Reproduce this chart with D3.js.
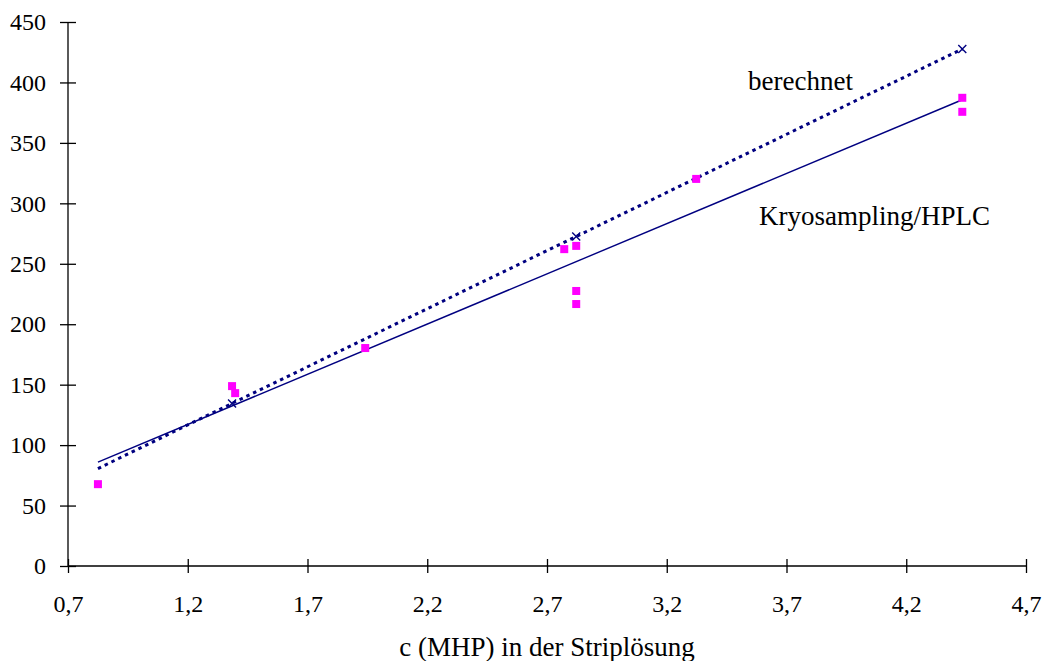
<!DOCTYPE html>
<html>
<head>
<meta charset="utf-8">
<script src="https://cdn.jsdelivr.net/npm/d3@7"></script>
<style>
  html, body { margin: 0; padding: 0; background: #fff; }
  svg text { font-family: "Liberation Serif", "Times New Roman", serif; fill: #000; }
</style>
</head>
<body>
<svg id="chart" width="1050" height="661"></svg>
<script>
// Measured MHP values (Kryosampling/HPLC)
const measX = [0.825, 1.385, 1.398, 1.941, 2.772, 2.822, 2.822, 2.822, 3.323, 4.434, 4.434];
const measY = [67.7, 148.8, 143.0, 180.3, 262.1, 264.8, 227.5, 216.7, 320.2, 387.3, 375.7];

// Trend line through the measured values
const trendX = [0.825, 4.434];
const trendY = [85.9, 385.7];

// Calculated values ("berechnet")
const calcX = [0.825, 1.385, 2.822, 4.434];
const calcY = [80.6, 134.5, 272.6, 427.7];
const calcMarked = [false, true, true, true];

const xTicks = [0.7, 1.2, 1.7, 2.2, 2.7, 3.2, 3.7, 4.2, 4.7];
const yTicks = [0, 50, 100, 150, 200, 250, 300, 350, 400, 450];

const xTitle = "c (MHP) in der Striplösung";
const labelCalc = "berechnet";
const labelMeas = "Kryosampling/HPLC";

const serif = "'Liberation Serif', 'Times New Roman', serif";
const svg = d3.select("#chart").attr("font-family", serif);
const margin = { left: 68, right: 24, top: 22, bottom: 95 };
const W = 1050, H = 661;

const x = d3.scaleLinear().domain([0.7, 4.7]).range([margin.left, W - margin.right]);
const y = d3.scaleLinear().domain([0, 450]).range([H - margin.bottom, margin.top]);

const fmt = d => d3.format(".1f")(d).replace(".", ",");

// X axis with ticks crossing the baseline
const xAxis = svg.append("g")
  .attr("transform", `translate(0,${y(0)})`)
  .call(d3.axisBottom(x).tickValues(xTicks).tickFormat(fmt).tickSize(7).tickPadding(22));
xAxis.selectAll(".tick line").attr("y1", -7).attr("y2", 7);
xAxis.select(".domain").attr("d", `M${x(0.7)},0H${x(4.7)}`);

const yAxis = svg.append("g")
  .attr("transform", `translate(${x(0.7)},0)`)
  .call(d3.axisLeft(y).tickValues(yTicks).tickSize(8).tickPadding(14));
yAxis.selectAll(".tick line").attr("x1", -8).attr("x2", 8);
yAxis.select(".domain").attr("d", `M0,${y(0)}V${y(450)}`);

svg.selectAll("g").attr("font-family", serif).attr("font-size", 24);
svg.selectAll(".domain, .tick line").attr("stroke", "#000").attr("stroke-width", 1.3);
svg.selectAll(".tick text").style("font-size", "24px").attr("fill", "#000");

// Axis title
svg.append("text")
  .attr("x", (x(0.7) + x(4.7)) / 2)
  .attr("y", 656)
  .attr("text-anchor", "middle")
  .style("font-size", "27px")
  .text(xTitle);

// Solid trend line
const line = d3.line().x(d => x(d[0])).y(d => y(d[1]));
svg.append("path")
  .datum(d3.zip(trendX, trendY))
  .attr("d", line)
  .attr("fill", "none")
  .attr("stroke", "#000080")
  .attr("stroke-width", 1.4);

// Dotted calculated line
svg.append("path")
  .datum(d3.zip(calcX, calcY))
  .attr("d", line)
  .attr("fill", "none")
  .attr("stroke", "#000080")
  .attr("stroke-width", 3)
  .attr("stroke-dasharray", "3.5 4");

// Measured points: magenta squares
const s = 8;
svg.append("g").selectAll("rect")
  .data(d3.zip(measX, measY))
  .join("rect")
  .attr("x", d => x(d[0]) - s / 2)
  .attr("y", d => y(d[1]) - s / 2)
  .attr("width", s)
  .attr("height", s)
  .attr("fill", "#ff00ff");

// Calculated points: crosses
const c = 4;
svg.append("g").selectAll("path")
  .data(d3.zip(calcX, calcY, calcMarked).filter(d => d[2]))
  .join("path")
  .attr("d", d => {
    const px = x(d[0]), py = y(d[1]);
    return `M${px - c},${py - c}L${px + c},${py + c}M${px - c},${py + c}L${px + c},${py - c}`;
  })
  .attr("stroke", "#000080")
  .attr("stroke-width", 1.4)
  .attr("fill", "none");

// Series labels
svg.append("text").attr("x", 748).attr("y", 90).style("font-size", "27px").text(labelCalc);
svg.append("text").attr("x", 759).attr("y", 225).style("font-size", "27px").text(labelMeas);
</script>
</body>
</html>
